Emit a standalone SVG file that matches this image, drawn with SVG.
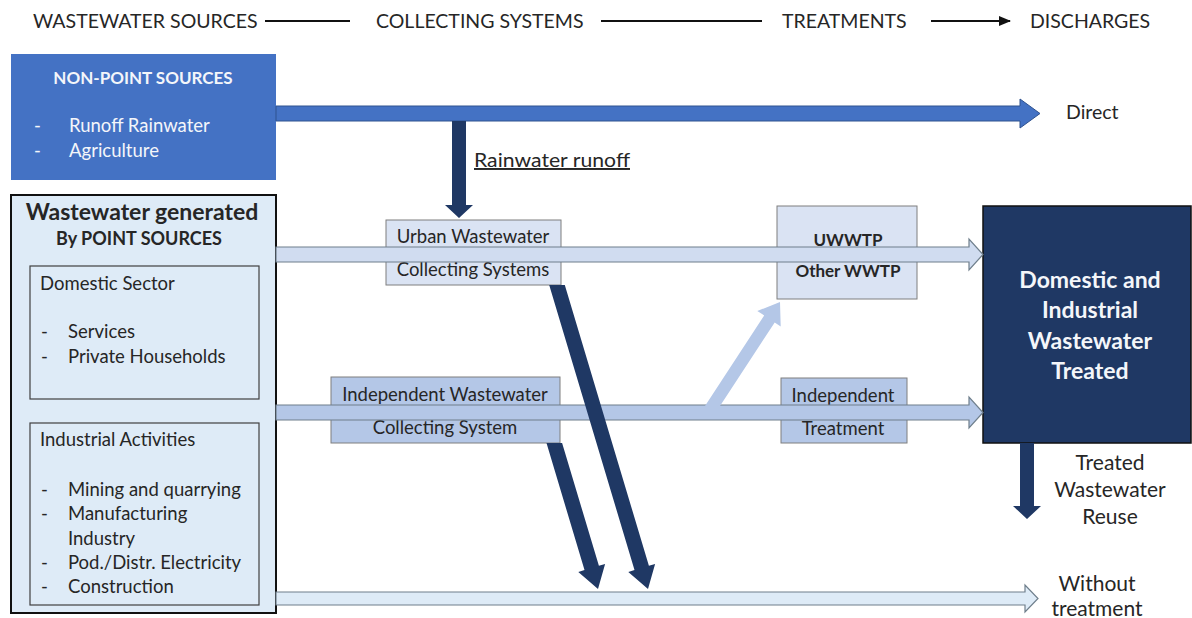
<svg xmlns="http://www.w3.org/2000/svg" width="1192" height="618" viewBox="0 0 1192 618">
<defs>
<style>
text{font-family:Lato,"Open Sans","Liberation Sans",sans-serif;fill:#262626}
.hd{font-size:19.5px}
.b16{font-size:18.5px}
.rt{font-size:21px}
.bold{font-weight:bold}
.c{text-anchor:middle}
.w{fill:#f4f6fa}
.lt{fill:#DAE3F3;stroke:#7F7F7F;stroke-width:1}
.md{fill:#B4C7E7;stroke:#7F7F7F;stroke-width:1}
.inner{fill:none;stroke:#404040;stroke-width:1.2}
.navy{fill:#1F3864}
.la{stroke:#6F7F8C;stroke-width:1.2}
.big{font-size:23px;font-weight:bold}
</style>
<marker id="ah" markerWidth="12" markerHeight="10" refX="11" refY="5" orient="auto" markerUnits="userSpaceOnUse">
<path d="M0,0 L12,5 L0,10 Z" fill="#111"/>
</marker>
</defs>
<rect width="1192" height="618" fill="#fff"/>

<g id="header">
<text class="hd" x="33" y="28">WASTEWATER SOURCES</text>
<text class="hd" x="376" y="28">COLLECTING SYSTEMS</text>
<text class="hd" x="782" y="28">TREATMENTS</text>
<text class="hd" x="1030" y="28">DISCHARGES</text>
<line x1="265" y1="21" x2="350" y2="21" stroke="#111" stroke-width="2"/>
<line x1="601" y1="21" x2="762" y2="21" stroke="#111" stroke-width="2"/>
<line x1="931" y1="21" x2="1010" y2="21" stroke="#111" stroke-width="2" marker-end="url(#ah)"/>
</g>

<g id="point-sources">
<rect x="11" y="195" width="265" height="418" fill="#DEEBF7" stroke="#111" stroke-width="2"/>
<text class="bold c" x="142" y="220" style="font-size:23px">Wastewater generated</text>
<text class="bold c" x="139" y="245" style="font-size:18px">By POINT SOURCES</text>
</g>

<g id="domestic-sector">
<rect class="inner" x="30" y="266" width="229" height="133"/>
<text class="b16" x="40" y="290">Domestic Sector</text>
<text class="b16" x="41" y="338">-</text><text class="b16" x="68" y="338">Services</text>
<text class="b16" x="41" y="363">-</text><text class="b16" x="68" y="363">Private Households</text>
</g>

<g id="industrial-activities">
<rect class="inner" x="30" y="423" width="229" height="182"/>
<text class="b16" x="40" y="446">Industrial Activities</text>
<text class="b16" x="41" y="496">-</text><text class="b16" x="68" y="496">Mining and quarrying</text>
<text class="b16" x="41" y="520">-</text><text class="b16" x="68" y="520">Manufacturing</text>
<text class="b16" x="68" y="545">Industry</text>
<text class="b16" x="41" y="569">-</text><text class="b16" x="68" y="569">Pod./Distr. Electricity</text>
<text class="b16" x="41" y="593">-</text><text class="b16" x="68" y="593">Construction</text>
</g>

<g id="non-point-sources">
<rect x="11" y="54" width="265" height="126" fill="#4472C4"/>
<text class="bold c w" x="143" y="84" style="font-size:17px">NON-POINT SOURCES</text>
<text class="b16 w" x="34" y="132">-</text><text class="b16 w" x="69" y="132">Runoff Rainwater</text>
<text class="b16 w" x="34" y="157">-</text><text class="b16 w" x="69" y="157">Agriculture</text>
</g>

<g id="urban-collecting">
<rect class="lt" x="386" y="220" width="175" height="65"/>
<text class="b16 c" x="473" y="243">Urban Wastewater</text>
<text class="b16 c" x="473" y="276">Collecting Systems</text>
</g>

<g id="independent-collecting">
<rect class="md" x="331" y="377" width="229" height="66"/>
<text class="b16 c" x="445" y="401">Independent Wastewater</text>
<text class="b16 c" x="445" y="434">Collecting System</text>
</g>

<g id="uwwtp">
<rect class="lt" x="777" y="206" width="140" height="93"/>
<text class="bold c" x="848" y="246" style="font-size:17px">UWWTP</text>
<text class="bold c" x="848" y="277" style="font-size:17px">Other WWTP</text>
</g>

<g id="independent-treatment">
<rect class="md" x="781" y="378" width="126" height="65"/>
<text class="b16 c" x="843" y="402">Independent</text>
<text class="b16 c" x="843" y="435">Treatment</text>
</g>

<g id="treated">
<rect x="983" y="206" width="208" height="237" fill="#1F3864" stroke="#111" stroke-width="1.5"/>
<text class="big c w" x="1090" y="288">Domestic and</text>
<text class="big c w" x="1090" y="318">Industrial</text>
<text class="big c w" x="1090" y="349">Wastewater</text>
<text class="big c w" x="1090" y="379">Treated</text>
</g>

<g id="discharges">
<text class="hd" x="1066" y="119">Direct</text>
<text class="rt c" x="1110" y="470">Treated</text>
<text class="rt c" x="1110" y="497">Wastewater</text>
<text class="rt c" x="1110" y="524">Reuse</text>
<text class="rt c" x="1097" y="591">Without</text>
<text class="rt c" x="1097" y="616">treatment</text>
</g>

<g id="connectors">
<polygon points="276,106 1020,106 1020,99 1040,113.5 1020,128 1020,121 276,121" fill="#4472C4" stroke="#2F528F" stroke-width="1"/>
<polygon class="navy" points="452,121 466,121 466,205 473,205 459,218 445,205 452,205"/>
<text class="b16" x="474" y="167" text-decoration="underline" textLength="156" lengthAdjust="spacingAndGlyphs" style="font-size:19.5px">Rainwater runoff</text>
<polygon class="la" fill="#D0DCF0" points="276,247 969,247 969,239 983,254.5 969,270 969,262 276,262"/>
<polygon class="la" fill="#B4C7E7" points="276,405 969,405 969,397 983,412.5 969,428 969,420 276,420"/>
<polygon fill="#B4C7E7" points="705,406 764.2,315.5 757.3,311 780,302 780.7,326.4 774.7,322.4 720,406"/>
<polygon class="la" fill="#DEEBF7" points="276,592 1025,592 1025,585 1038,598.5 1025,612 1025,605 276,605"/>
<polygon class="navy" points="549.2,285 634.5,570.05 628.3,571.9 648,589 655.1,563.9 648.9,565.75 564.8,285"/>
<polygon class="navy" points="546.5,443 584.5,570.05 578.3,571.9 598,589 605.1,563.9 598.9,565.75 562.1,443"/>
<polygon class="navy" points="1020,443 1034,443 1034,506 1041,506 1027,519 1013,506 1020,506"/>
</g>
</svg>
